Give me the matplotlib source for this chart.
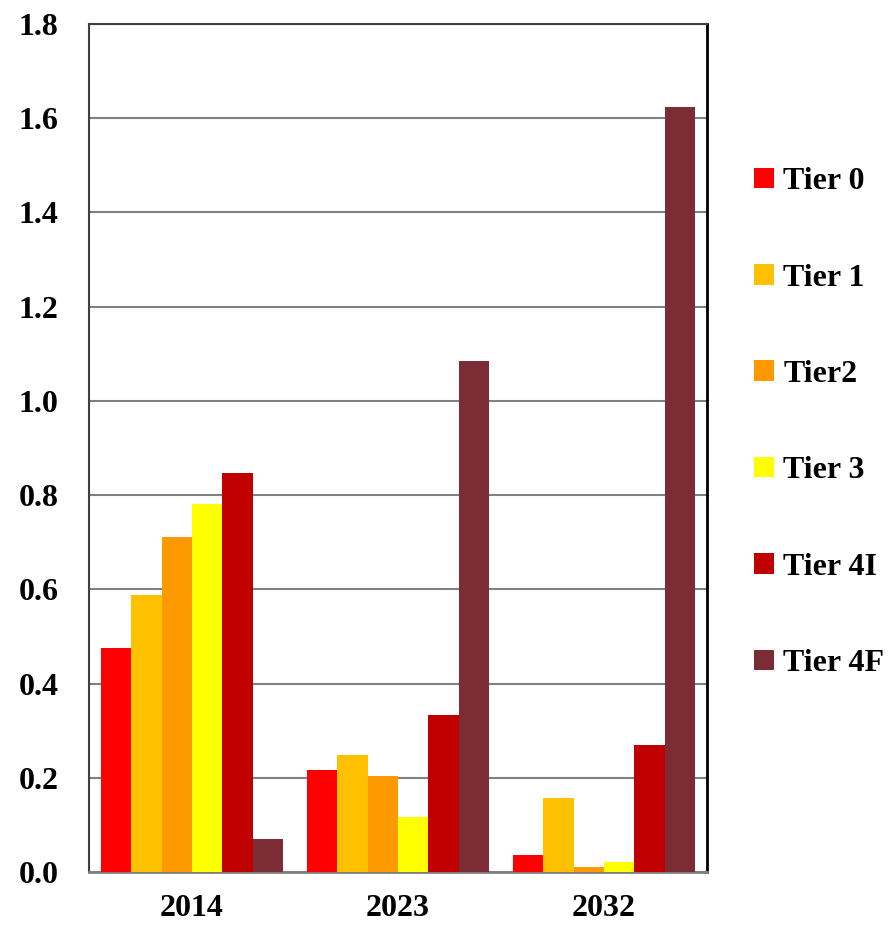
import matplotlib.pyplot as plt
import numpy as np

plt.rcParams['font.family'] = ['Liberation Serif', 'DejaVu Serif']
plt.rcParams['font.weight'] = 'bold'

years = ['2014', '2023', '2032']
tiers = ['Tier 0', 'Tier 1', 'Tier2', 'Tier 3', 'Tier 4I', 'Tier 4F']
colors = ['#ff0000', '#ffc000', '#ff9900', '#ffff00', '#c00000', '#7b2c34']

tier0 = [0.475, 0.216, 0.035]
tier1 = [0.588, 0.248, 0.157]
tier2 = [0.710, 0.203, 0.010]
tier3 = [0.782, 0.117, 0.022]
tier4i = [0.847, 0.333, 0.270]
tier4f = [0.069, 1.084, 1.623]
series = [tier0, tier1, tier2, tier3, tier4i, tier4f]

fig = plt.figure(figsize=(8.92, 9.30), dpi=100)
ax = fig.add_axes([0.0998, 0.0624, 0.6928, 0.9118])

x = np.arange(len(years))
w = 0.883 / len(series)
for i, (vals, lab, c) in enumerate(zip(series, tiers, colors)):
    ax.bar(x - 0.883 / 2 + w * (i + 0.5), vals, width=w, color=c, label=lab, zorder=3)

ax.set_xlim(-0.5, 2.5)
ax.set_ylim(0, 1.8)
ax.set_yticks(np.arange(0, 1.81, 0.2))
ax.set_yticklabels([f'{v:.1f}' for v in np.arange(0, 1.81, 0.2)])
ax.set_xticks(x)
ax.set_xticklabels(years)
ax.tick_params(length=0, labelsize=23)
ax.tick_params(axis='x', pad=16)
ax.tick_params(axis='y', pad=22)
ax.grid(axis='y', color='#808080', lw=1.5, zorder=0)

for s in ['left', 'top']:
    ax.spines[s].set_color('#404040')
    ax.spines[s].set_linewidth(1.5)
ax.spines['right'].set_color('#000000')
ax.spines['right'].set_linewidth(2)
ax.spines['bottom'].set_color('#808080')
ax.spines['bottom'].set_linewidth(2)

fig.legend(loc='upper left', bbox_to_anchor=(0.831, 0.834), frameon=False,
           fontsize=23, handlelength=0.62, handleheight=0.62, handletextpad=0.3,
           labelspacing=2.11, borderaxespad=0)

fig.savefig('out.png', dpi=100)
